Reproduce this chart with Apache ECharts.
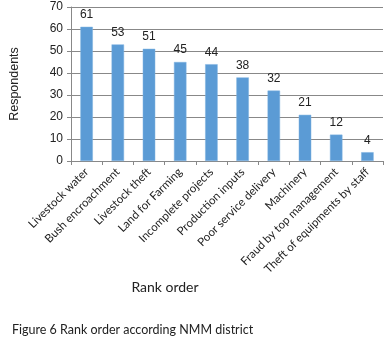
<!DOCTYPE html>
<html>
<head>
<meta charset="utf-8">
<script src="https://cdn.jsdelivr.net/npm/echarts@6/dist/echarts.min.js"></script>
<style>
  html, body { margin: 0; padding: 0; background: #fff; }
  #chart { width: 390px; height: 344px; }
</style>
</head>
<body>
<div id="chart"></div>
<script>
const categories = [
  "Livestock water", "Bush encroachment", "Livestock theft", "Land for Farming",
  "Incomplete projects", "Production inputs", "Poor service delivery", "Machinery",
  "Fraud by top management", "Theft of equipments by staff"
];
const respondents = [61, 53, 51, 45, 44, 38, 32, 21, 12, 4];
const yTicks = [0, 70, 10]; // min, max, interval

const chart = echarts.init(document.getElementById("chart"));
const option = {
  animation: false,
  grid: { left: 58, right: 7, top: 7, bottom: 183 },
  title: [
    {
      text: "Rank order", left: 160, top: 275, textAlign: "center",
      textStyle: { fontFamily: "Lato", fontSize: 14, fontWeight: "normal", color: "#222" }
    },
    {
      text: "Figure 6 Rank order according NMM district", left: 7, top: 318,
      textStyle: { fontFamily: "Lato", fontSize: 12.5, fontWeight: "normal", color: "#222" }
    }
  ],
  xAxis: {
    type: "category",
    data: categories,
    axisLine: { lineStyle: { color: "#888" } },
    axisTick: { show: true, length: 4, lineStyle: { color: "#888" } },
    axisLabel: {
      rotate: 45, interval: 0, margin: 9,
      fontFamily: "Lato", fontSize: 11.5, color: "#222"
    }
  },
  yAxis: {
    type: "value",
    min: yTicks[0], max: yTicks[1], interval: yTicks[2],
    name: "Respondents",
    nameLocation: "middle",
    nameGap: 50,
    nameTextStyle: { fontFamily: "Liberation Sans", fontSize: 12.5, color: "#222" },
    axisLine: { show: true, lineStyle: { color: "#888" } },
    axisTick: { show: true, length: 4, lineStyle: { color: "#888" } },
    axisLabel: { fontFamily: "Liberation Sans", fontSize: 12, color: "#222", margin: 8 },
    splitLine: { lineStyle: { color: "#888" } }
  },
  series: [
    {
      type: "bar",
      data: respondents,
      barWidth: "40%",
      itemStyle: { color: "#5b9bd5", borderColor: "#7fb2e0", borderWidth: 0.5 },
      label: {
        show: true, position: "top", distance: 6,
        fontFamily: "Liberation Sans", fontSize: 12, color: "#222"
      }
    }
  ]
};
chart.setOption(option);
</script>
</body>
</html>
